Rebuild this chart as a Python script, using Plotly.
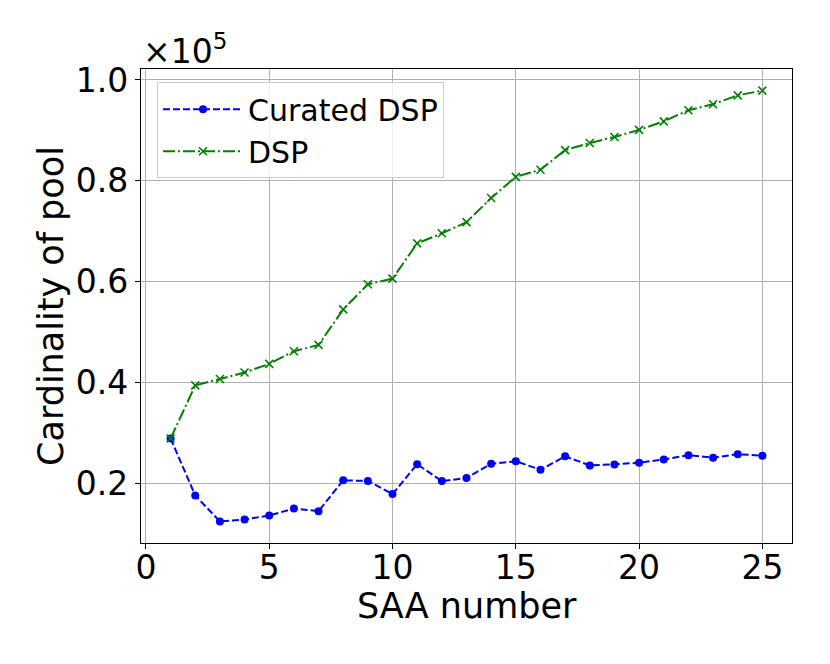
import plotly.graph_objects as go

saa_number = list(range(1, 26))
curated_dsp = [28900, 17600, 12460, 12850, 13650, 15000, 14500, 20600, 20500, 17900,
               23800, 20460, 21050, 23900, 24400, 22700, 25360, 23570, 23770, 24100,
               24760, 25600, 25100, 25800, 25500]
dsp = [28900, 39450, 40700, 42000, 43700, 46200, 47460, 54500, 59500, 60600,
       67600, 69600, 71800, 76600, 80800, 82200, 86100, 87500, 88700, 90100,
       91800, 94000, 95200, 96960, 97900]
scale = 1e5
y_ticks = [0.2, 0.4, 0.6, 0.8, 1.0]
x_ticks = [0, 5, 10, 15, 20, 25]
x_title = "SAA number"
y_title = "Cardinality of pool"

FONT = "DejaVu Sans"

fig = go.Figure()
fig.add_trace(go.Scatter(
    x=saa_number, y=[v / scale for v in curated_dsp], name="Curated DSP",
    mode="lines+markers",
    line=dict(color="#0000ff", width=2, dash="7px,3px"),
    marker=dict(symbol="circle", size=8, color="#0000ff"),
))
fig.add_trace(go.Scatter(
    x=saa_number, y=[v / scale for v in dsp], name="DSP",
    mode="lines+markers",
    line=dict(color="#008000", width=2, dash="12px,3px,2px,3px"),
    marker=dict(symbol="x-thin", size=8, line=dict(color="#008000", width=1.6)),
))

axis_common = dict(
    showline=True, mirror=True, linecolor="black", linewidth=1.1,
    showgrid=True, gridcolor="#b0b0b0", gridwidth=1.1,
    ticks="outside", ticklen=5, tickwidth=1.1, tickcolor="black",
    tickfont=dict(family=FONT, size=33, color="black"),
    zeroline=False, automargin=False,
)

fig.update_layout(
    width=822, height=656,
    margin=dict(l=133, r=38, t=61, b=121),
    paper_bgcolor="white", plot_bgcolor="white",
    font=dict(family=FONT, color="black"),
    xaxis=dict(range=[-0.2, 26.2], tickvals=x_ticks, ticklabelstandoff=-10, **axis_common),
    yaxis=dict(range=[0.0818, 1.0218], tickvals=y_ticks, tickformat=".1f", **axis_common),
    legend=dict(x=0.0246, y=0.972, xanchor="left", yanchor="top",
                bgcolor="rgba(255,255,255,0.8)", bordercolor="#cccccc", borderwidth=1,
                font=dict(family=FONT, size=30), tracegroupgap=4, itemwidth=80),
    showlegend=True,
    annotations=[
        dict(text="×10<sup>5</sup>", xref="paper", yref="paper", x=0, y=1,
             xanchor="left", yanchor="bottom", xshift=0, yshift=-4, showarrow=False,
             font=dict(family=FONT, size=33, color="black")),
        dict(text=x_title, xref="paper", yref="paper", x=0.5, y=0,
             xanchor="center", yanchor="middle", yshift=-63, showarrow=False,
             font=dict(family=FONT, size=35, color="black")),
        dict(text=y_title, xref="paper", yref="paper", x=0, y=0.5, textangle=-90,
             xanchor="center", yanchor="middle", xshift=-90, showarrow=False,
             font=dict(family=FONT, size=35, color="black")),
    ],
)

fig.write_html("out.html")
